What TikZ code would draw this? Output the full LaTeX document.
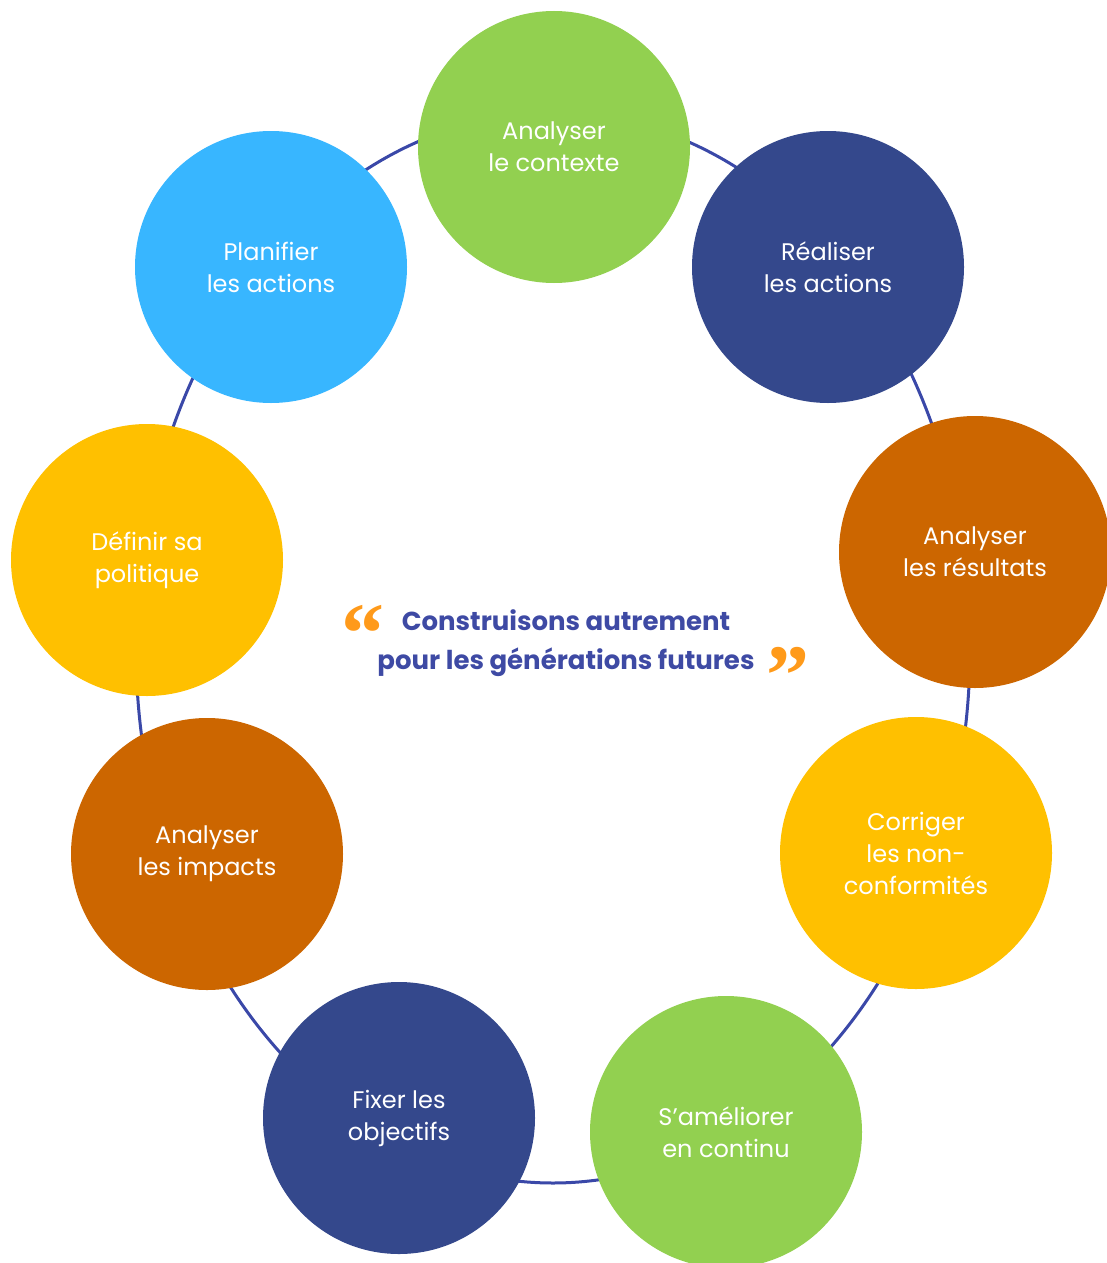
\documentclass[tikz,border=0pt]{standalone}
\usepackage{fontspec}
\setmainfont[Ligatures=NoCommon]{Poppins}
\newfontfamily\quotefont{Liberation Serif}
\definecolor{ringblue}{HTML}{3A48A8}
\definecolor{mottoblue}{HTML}{3E4AA4}
\definecolor{stepgreen}{HTML}{92D050}
\definecolor{stepsky}{HTML}{38B6FF}
\definecolor{stepnavy}{HTML}{34488C}
\definecolor{steprust}{HTML}{CC6600}
\definecolor{stepgold}{HTML}{FFC000}
\definecolor{quoteorange}{HTML}{FF9A1A}
\begin{document}
\begin{tikzpicture}[x=1pt,y=-1pt]
    \tikzstyle{ring}=[draw=ringblue,line width=3pt]
    \tikzstyle{stepdisc}=[circle,minimum size=272pt,inner sep=0pt,text=white,align=center,font=\fontsize{24}{32}\selectfont]
    \tikzstyle{motto}=[text=mottoblue,align=center,font=\fontsize{26}{39}\selectfont\bfseries]
    \tikzstyle{quotemark}=[text=quoteorange,inner sep=0pt,font=\quotefont\fontsize{86}{86}\selectfont\bfseries]

    \useasboundingbox (0,0) rectangle (1106,1263);

    \coordinate (hub) at (553,648);
    \draw[ring] (hub) ellipse [x radius=417, y radius=535];

    \foreach \n/\x/\y/\col/\txt in {
        1/554/147/stepgreen/{Analyser\\le contexte},
        2/828/267/stepnavy/{Réaliser\\les actions},
        3/975/552/steprust/{Analyser\\les résultats},
        4/916/853/stepgold/{Corriger\\les non-\\conformités},
        5/726/1132/stepgreen/{S’améliorer\\en continu},
        6/399/1118/stepnavy/{Fixer les\\objectifs},
        7/207/854/steprust/{Analyser\\les impacts},
        8/147/560/stepgold/{Définir sa\\politique},
        9/271/267/stepsky/{Planifier\\les actions}}
    \node[stepdisc, fill=\col] (S-\n) at (\x,\y) {\txt};

    \node[motto] (slogan) at (566,643) {Construisons autrement\\pour les générations futures};
    \node[quotemark, anchor=north] (open-q) at (363,605) {“};
    \node[quotemark, anchor=north] (close-q) at (788,647) {”};
\end{tikzpicture}
\end{document}
